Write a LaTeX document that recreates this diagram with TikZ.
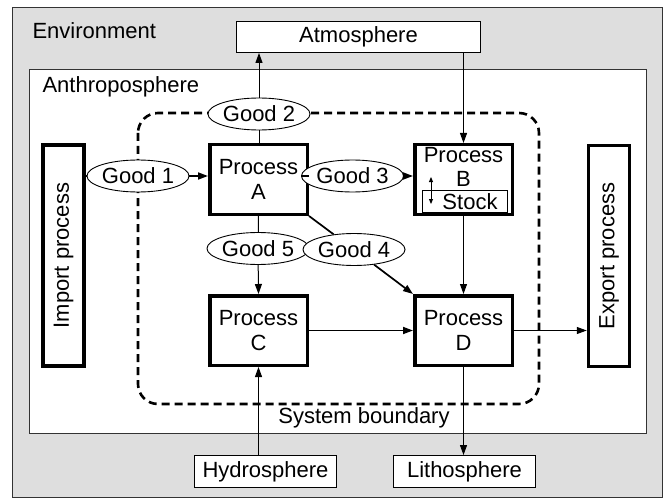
\documentclass[tikz,border=0pt]{standalone}
\usepackage{fontspec}
\setmainfont{Liberation Sans}
\usetikzlibrary{shapes.geometric,arrows.meta}
\definecolor{envgray}{HTML}{DEDEDE}
\definecolor{framecol}{HTML}{333333}
\begin{document}
\begin{tikzpicture}[x=1pt,y=-1pt,
  every node/.style={font=\fontsize{22}{25}\selectfont},
  procbox/.style={draw=black, line width=3.5pt, minimum width=97.5pt, minimum height=69.5pt, align=center, inner sep=0pt},
  tallbox/.style={draw=black, line width=3.5pt, minimum width=41pt, minimum height=221pt, inner sep=0pt},
  spherebox/.style={draw=black, line width=0.9pt, fill=white, inner sep=0pt},
  good/.style={draw=black, line width=0.9pt, fill=white, ellipse, minimum width=82pt, minimum height=32pt, inner sep=0pt},
  arr/.style={line width=1pt, -{Triangle[length=10pt,width=7pt]}},
  arrb/.style={line width=1.7pt, -{Triangle[length=10pt,width=7pt]}},
  ln/.style={line width=1pt},
  lnb/.style={line width=1.7pt},
  bnd/.style={line width=2.6pt, dash pattern=on 8pt off 5pt, rounded corners=20pt}]
\useasboundingbox (0,0) rectangle (664,500);
% environment and anthroposphere
\filldraw[fill=envgray, draw=framecol, line width=0.9pt] (12,7) rectangle (662,497);
\filldraw[fill=white, draw=framecol, line width=0.9pt] (29,69) rectangle (646,433);
\node[anchor=west] (envlbl) at (29,31) {Environment};
\node[anchor=west] (anthlbl) at (39,87) {Anthroposphere};
% system boundary
\draw[bnd] (138,113) rectangle (539,404);
\node (sblbl) at (364,418) {System boundary};
% spheres
\node[spherebox, minimum width=244pt, minimum height=31pt] (atm) at (358.5,37) {Atmosphere};
\node[spherebox, minimum width=142pt, minimum height=32pt] (hyd) at (265.5,471.5) {Hydrosphere};
\node[spherebox, minimum width=142pt, minimum height=32pt] (lit) at (464.5,471.5) {Lithosphere};
% processes
\node[procbox] (A) at (258.5,179.5) {Process\\A};
\node[procbox] (B) at (463.5,179.5) {};
\node[inner sep=0pt] (Btxt1) at (463.5,155) {Process};
\node[inner sep=0pt] (Btxt2) at (463.5,179) {B};
\node[draw=black, line width=0.9pt, minimum width=85pt, minimum height=22pt, inner sep=0pt] (stock) at (465,201.5) {};
\node[inner sep=0pt] (stocktxt) at (470,201.5) {Stock};
\coordinate (stu) at (431,177);
\coordinate (std) at (431,204);
\draw[line width=0.9pt, {Triangle[length=5pt,width=4pt]}-{Triangle[length=5pt,width=4pt]}] (stu) -- (std);
\node[procbox] (C) at (258.5,330.5) {Process\\C};
\node[procbox] (D) at (463.5,330.5) {Process\\D};
\node[tallbox] (imp) at (63.5,255.5) {};
\node[rotate=90] (imptxt) at (63.5,255.5) {Import process};
\node[tallbox] (exp) at (609,256) {};
\node[rotate=90] (exptxt) at (609,256) {Export process};
% goods
\node[good] (g1) at (138,176) {Good 1};
\node[good] (g2) at (259,114) {Good 2};
\node[good] (g3) at (352.5,176) {Good 3};
\node[good] (g5) at (258,248.5) {Good 5};
\node[good] (g4) at (354,249.5) {Good 4};
% flows
\draw[lnb] (imp.east |- g1) -- (g1);
\draw[arrb] (g1) -- (A.west |- g1);
\draw[ln] (A.north -| g2) -- (g2);
\draw[arr] (g2) -- (g2 |- atm.south);
\draw[lnb] (A.east |- g3) -- (g3);
\draw[arrb] (g3) -- (B.west |- g3);
\draw[arr] (B.north |- atm.south) -- (B.north);
\draw[ln] (A.south) -- (g5);
\draw[arr] (g5) -- (C.north);
\draw[lnb] (A.south east) -- (g4);
\draw[arrb] (g4) -- (D.north west);
\draw[arr] (B.south) -- (D.north);
\draw[arrb] (C.east) -- (D.west);
\draw[arr] (D.east) -- (D.east -| exp.west);
\draw[arr] (C.south |- hyd.north) -- (C.south);
\draw[arr] (D.south) -- (D.south |- lit.north);
\end{tikzpicture}
\end{document}
